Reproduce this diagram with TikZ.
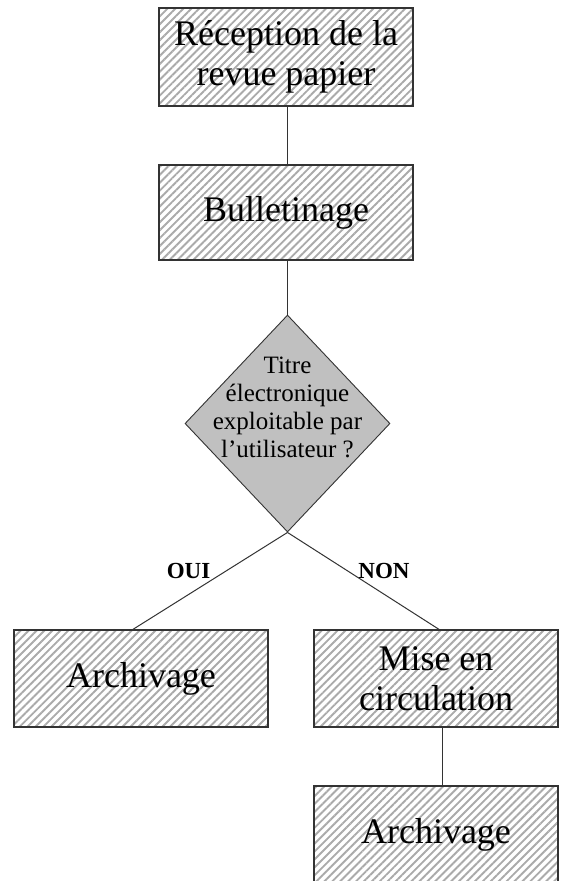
\documentclass[tikz,border=0pt]{standalone}
\usepackage{fontspec}
\setmainfont{Liberation Serif}
\usetikzlibrary{shapes.geometric,patterns.meta}

\definecolor{edgegray}{HTML}{333333}
\definecolor{hatchgray}{HTML}{AAAAAA}
\definecolor{decisiongray}{HTML}{C0C0C0}

\tikzset{
  hatched/.style={
    rectangle, draw=edgegray, line width=1.3pt, inner sep=0pt,
    pattern={Lines[angle=45,distance=5.6pt,line width=1.9pt]},
    pattern color=hatchgray,
    align=center, font=\fontsize{36}{40}\selectfont
  },
  decision/.style={
    diamond, draw=edgegray, line width=0.9pt, fill=decisiongray,
    inner sep=0pt, minimum width=205pt, minimum height=217pt
  },
  link/.style={draw=edgegray, line width=1pt},
  answer/.style={font=\bfseries\fontsize{23}{26}\selectfont, anchor=base, inner sep=0pt}
}

\begin{document}
\begin{tikzpicture}[x=1pt,y=-1pt]
  \useasboundingbox (0,0) rectangle (560,881);
  \fill[white] (0,0) rectangle (560,881);
  \clip (0,0) rectangle (560,881);

  % process boxes
  \node[hatched, minimum width=254pt, minimum height=98pt] (recep) at (286,57)
    {Réception de la\\revue papier};
  \node[hatched, minimum width=254pt, minimum height=95pt] (bull) at (286,212.5)
    {Bulletinage};

  % decision
  \node[decision,
        label={[font=\fontsize{25}{28}\selectfont, align=center, yshift=16pt]center:Titre\\électronique\\exploitable par\\l’utilisateur ?}]
        (dec) at (287.5,423.5) {};

  % outcomes
  \node[hatched, minimum width=254pt, minimum height=97pt] (arch1) at (141,678.5)
    {Archivage};
  \node[hatched, minimum width=244pt, minimum height=97pt] (mise) at (436,678.5)
    {Mise en\\circulation};
  \node[hatched, minimum width=244pt, minimum height=97pt] (arch2) at (436,834.5)
    {Archivage};

  % connectors (vertical links share the diamond's axis)
  \draw[link] (recep.south -| dec.north) -- (bull.north -| dec.north);
  \draw[link] (bull.south -| dec.north) -- (dec.north);
  \draw[link] (dec.south) -- ([xshift=-8pt]arch1.north);
  \draw[link] (dec.south) -- ([xshift=3pt]mise.north);
  \draw[link] ([xshift=6pt]mise.south) -- ([xshift=6pt]arch2.north);

  % branch labels
  \node[answer] (oui) at (188.5,578) {OUI};
  \node[answer] (non) at (384,578) {NON};
\end{tikzpicture}
\end{document}
